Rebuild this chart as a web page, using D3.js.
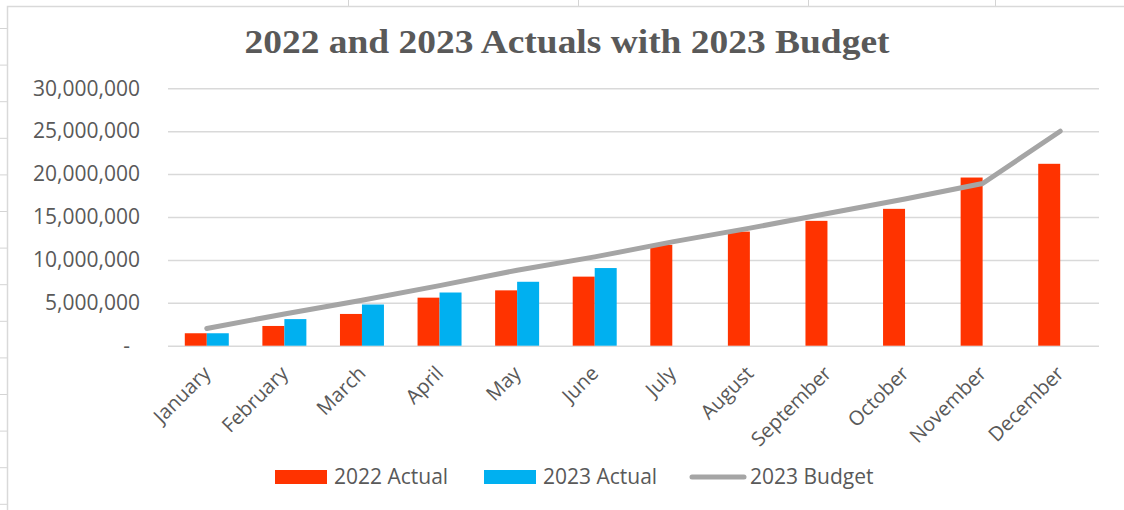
<!DOCTYPE html>
<html>
<head>
<meta charset="utf-8">
<script src="https://cdn.jsdelivr.net/npm/d3@7"></script>
<style>
  body { margin: 0; background: #fff; }
  svg { display: block; }
  .tick text { font-family: "Open Sans", sans-serif; fill: #595959; }
</style>
</head>
<body>
<svg width="1124" height="510"></svg>
<script>
// values
const months = ["January", "February", "March", "April", "May", "June",
  "July", "August", "September", "October", "November", "December"]
const actual2022 = [1450000, 2300000, 3700000, 5600000, 6450000, 8050000,
  11750000, 13300000, 14550000, 15950000, 19600000, 21200000]
const actual2023 = [1450000, 3100000, 4800000, 6200000, 7450000, 9050000]
const budget2023 = [2000000, 3700000, 5300000, 7000000, 8800000, 10350000,
  12100000, 13700000, 15400000, 17100000, 18900000, 25000000]
const yTicks = [0, 5000000, 10000000, 15000000, 20000000, 25000000, 30000000]
const seriesNames = ["2022 Actual", "2023 Actual", "2023 Budget"]
const colors = ["#ff3300", "#00b0f0", "#a5a5a5"]

const svg = d3.select("svg")

// spreadsheet cells behind the chart
const sheet = svg.append("g").attr("stroke", "#d4d4d4").attr("stroke-width", 1)
d3.range(28.5, 510, 36.6).forEach(y => {
  sheet.append("line").attr("x1", 0).attr("x2", 7).attr("y1", y).attr("y2", y)
})
;[348.5, 578.5, 808.5, 995.5].forEach(x => {
  sheet.append("line").attr("x1", x).attr("x2", x).attr("y1", 0).attr("y2", 6)
})

// chart area border
svg.append("path")
  .attr("d", "M7.5,510 V6.5 H1124")
  .attr("fill", "none")
  .attr("stroke", "#d9d9d9")
  .attr("stroke-width", 1.5)

// title
svg.append("text")
  .attr("x", 567)
  .attr("y", 53)
  .attr("text-anchor", "middle")
  .attr("font-family", "Liberation Serif, serif")
  .attr("font-weight", "bold")
  .attr("font-size", 34)
  .attr("fill", "#595959")
  .attr("textLength", 645)
  .attr("lengthAdjust", "spacingAndGlyphs")
  .text("2022 and 2023 Actuals with 2023 Budget")

// scales
const scaleX = d3.scaleBand()
  .domain(months)
  .range([168, 1099])
  .paddingInner(0.433)
  .paddingOuter(0.2165)

const scaleSeries = d3.scaleBand()
  .domain([0, 1])
  .range([0, scaleX.bandwidth()])

const scaleY = d3.scaleLinear()
  .domain([0, 30000000])
  .range([345.7, 88.3])

const center = m => scaleX(m) + scaleX.bandwidth() / 2

// y axis + gridlines
const axisY = d3.axisLeft(scaleY)
  .tickValues(yTicks)
  .tickSizeInner(-(1099 - 168))
  .tickSizeOuter(0)
  .tickPadding(28)
  .tickFormat(d => d === 0 ? "-" : d3.format(",")(d))

const axisYGroup = svg.append("g")
  .attr("transform", "translate(168,0)")
  .call(axisY)
axisYGroup.select(".domain").remove()
axisYGroup.selectAll(".tick line")
  .attr("stroke", "#d9d9d9")
  .attr("stroke-width", 1.5)
axisYGroup.selectAll(".tick text")
  .attr("font-size", 21)
  .attr("dx", d => d === 0 ? -10 : 0)

// x axis labels
const axisX = d3.axisBottom(scaleX).tickSize(0).tickPadding(0)
const axisXGroup = svg.append("g")
  .attr("transform", "translate(0,345.7)")
  .call(axisX)
axisXGroup.select(".domain").remove()
axisXGroup.selectAll(".tick text")
  .attr("font-size", 20)
  .attr("text-anchor", "end")
  .attr("x", 0)
  .attr("y", 0)
  .attr("dy", "0.35em")
  .attr("transform", "translate(0,24) rotate(-45)")

// bars
const bars = svg.append("g")
bars.selectAll("rect.a22")
  .data(actual2022)
  .enter()
  .append("rect")
  .attr("class", "a22")
  .attr("x", (d, i) => scaleX(months[i]) + scaleSeries(0))
  .attr("y", d => scaleY(d))
  .attr("width", scaleSeries.bandwidth())
  .attr("height", d => scaleY(0) - scaleY(d))
  .attr("fill", colors[0])

bars.selectAll("rect.a23")
  .data(actual2023)
  .enter()
  .append("rect")
  .attr("class", "a23")
  .attr("x", (d, i) => scaleX(months[i]) + scaleSeries(1))
  .attr("y", d => scaleY(d))
  .attr("width", scaleSeries.bandwidth())
  .attr("height", d => scaleY(0) - scaleY(d))
  .attr("fill", colors[1])

// budget line
const line = d3.line()
  .x((d, i) => center(months[i]))
  .y(d => scaleY(d))

svg.append("path")
  .datum(budget2023)
  .attr("d", line)
  .attr("fill", "none")
  .attr("stroke", colors[2])
  .attr("stroke-width", 5)
  .attr("stroke-linecap", "round")
  .attr("stroke-linejoin", "round")

// legend
const legendX = [275, 484, 690]
const legend = svg.append("g")
  .selectAll("g")
  .data(seriesNames)
  .enter()
  .append("g")
  .attr("transform", (d, i) => `translate(${legendX[i]},477)`)

legend.filter((d, i) => i < 2)
  .append("rect")
  .attr("x", 0)
  .attr("y", -7)
  .attr("width", 52)
  .attr("height", 14)
  .attr("fill", (d, i) => colors[i])

legend.filter((d, i) => i === 2)
  .append("line")
  .attr("x1", 2)
  .attr("x2", 54)
  .attr("stroke", colors[2])
  .attr("stroke-width", 5)
  .attr("stroke-linecap", "round")

legend.append("text")
  .attr("x", (d, i) => i < 2 ? 59 : 60)
  .attr("y", 0)
  .attr("dy", "0.35em")
  .attr("font-family", "Open Sans, sans-serif")
  .attr("font-size", 21)
  .attr("fill", "#595959")
  .text(d => d)
</script>
</body>
</html>
